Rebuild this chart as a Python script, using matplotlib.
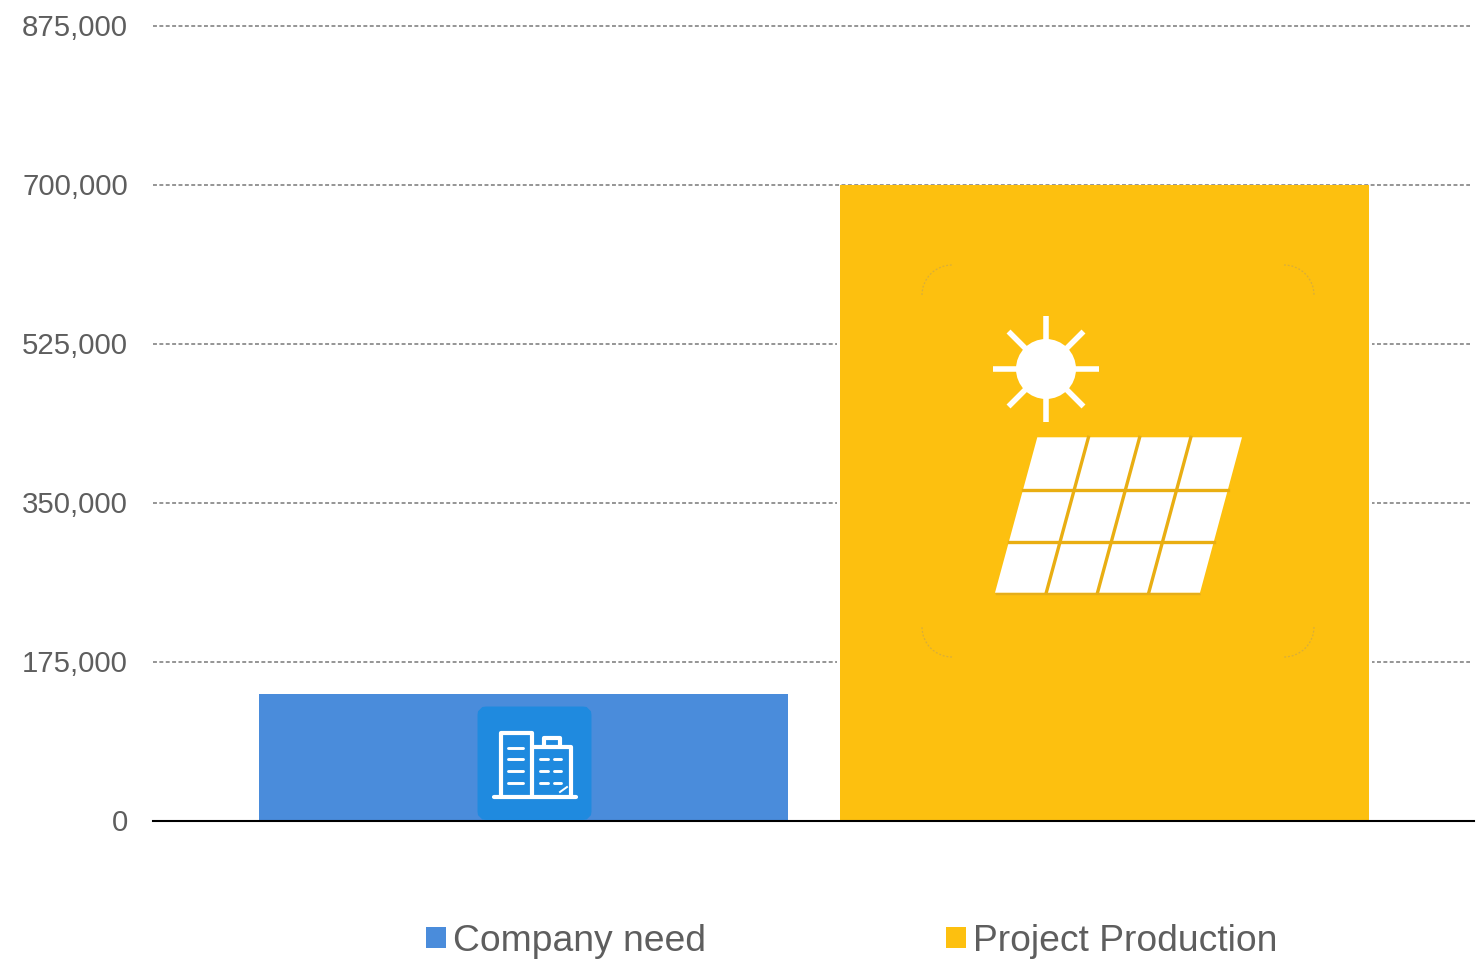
import numpy as np
import matplotlib
matplotlib.use("Agg")
import matplotlib.pyplot as plt
from matplotlib.patches import Arc, FancyBboxPatch, Polygon
from matplotlib.ticker import FuncFormatter
from matplotlib.transforms import ScaledTranslation

plt.rcParams['font.family'] = ['Liberation Sans', 'DejaVu Sans']

# Datos
series_names = ["Company need", "Project Production"]
series_values = [140000, 700000]
series_colors = ["#4A8CDB", "#FDC00F"]
y_ticks = [0, 175000, 350000, 525000, 700000, 875000]

TEXT_COLOR = "#5E5E5E"
GRID_COLOR = "#919191"
W, H = 1484, 964


def icono_edificio(ov):
    """Two office blocks on a rounded blue tile."""
    ov.add_patch(FancyBboxPatch((485.5, 714.5), 98, 97.5, boxstyle="round,pad=0,rounding_size=1",
                                mutation_scale=1, fc="#1F8ADF", ec="#1F8ADF", lw=11.5))
    blanco = dict(color="white", lw=3.0, solid_capstyle="round", solid_joinstyle="round")
    ov.plot([501, 501, 531.5, 531.5], [796.5, 733, 733, 796.5], **blanco)
    ov.plot([531.5, 570.5, 570.5], [747, 747, 796.5], **blanco)
    ov.plot([543.5, 543.5, 560, 560], [746, 738, 738, 746], **blanco)
    ov.plot([494, 576], [796.5, 796.5], **blanco)
    fino = dict(color="white", lw=2.1, solid_capstyle="round")
    for y in [747.5, 759, 770.5, 782.5]:
        ov.plot([507.5, 523], [y, y], **fino)
    for y in [759, 770.5, 782.5]:
        ov.plot([540, 548], [y, y], **fino)
        ov.plot([553.5, 561], [y, y], **fino)
    ov.plot([560, 567], [792, 787], color="white", lw=1.4)


def icono_solar(ov):
    """Sun above a tilted solar panel, on the yellow bar."""
    # Esquinas apenas visibles del recuadro del icono
    centros = [(952, 295, 180), (1284, 295, 270), (1284, 627, 0), (952, 627, 90)]
    for cx, cy, ang in centros:
        ov.add_patch(Arc((cx, cy), 60, 60, theta1=ang, theta2=ang + 90,
                         color="#D8AE3A", lw=0.9, ls=(0, (1.5, 1.5))))

    cx, cy = 1046, 369
    ov.add_patch(plt.Circle((cx, cy), 30, fc="white", ec="none"))
    for ang in np.deg2rad(np.arange(0, 360, 45)):
        ov.plot([cx + 28 * np.cos(ang), cx + 53 * np.cos(ang)],
                [cy + 28 * np.sin(ang), cy + 53 * np.sin(ang)],
                color="white", lw=4.0, solid_capstyle="butt")

    tl, tr = np.array([1037.3, 437.3]), np.array([1242, 437.3])
    bl, br = np.array([995, 592.7]), np.array([1200, 592.7])
    ov.add_patch(Polygon([bl + [1, 2.5], br + [1, 2.5], br, bl], fc="#E5AE1A", ec="none"))
    ov.add_patch(Polygon([tl, tr, br, bl], fc="white", ec="none"))
    for f in [1 / 4, 2 / 4, 3 / 4]:
        a, b = tl + f * (tr - tl), bl + f * (br - bl)
        ov.plot([a[0], b[0]], [a[1], b[1]], color="#E9AE12", lw=2.4)
    for f in [1 / 3, 2 / 3]:
        a, b = tl + f * (bl - tl), tr + f * (br - tr)
        ov.plot([a[0], b[0]], [a[1] + 1, b[1] + 1], color="#E9AE12", lw=2.4)


fig = plt.figure(figsize=(W / 100, H / 100), dpi=100, facecolor="white")
ax = fig.add_axes([153 / W, 1 - 821 / H, (1474 - 153) / W, (821 - 26) / H])

# Una sola categoría con dos series lado a lado
ancho = 0.4005
offsets = [-0.2195, 0.22]
handles = []
for name, val, col, off in zip(series_names, series_values, series_colors, offsets):
    # Halo blanco que corta la grilla alrededor de la barra
    ax.bar(off, val * 0.995, width=ancho + 0.0045, color="white", zorder=2)
    handles.append(ax.bar(off, val, width=ancho, color=col, label=name, zorder=3))

ax.set_xlim(-0.5, 0.5)
ax.set_ylim(0, 875000)
ax.set_xticks([])
ax.set_yticks(y_ticks)
ax.yaxis.set_major_formatter(FuncFormatter(lambda v, _: f"{int(v):,}"))
ax.tick_params(axis="y", length=0, pad=18, labelsize=21.2, labelcolor=TEXT_COLOR)
# Subir un poco las etiquetas del eje
desplazar = ScaledTranslation(0, 1 / 100, fig.dpi_scale_trans)
for lab in ax.get_yticklabels():
    lab.set_transform(lab.get_transform() + desplazar)
ax.hlines(y_ticks[1:], -0.5, 0.497, color=GRID_COLOR, lw=1.35, ls=(0, (2.1, 1.3)),
          clip_on=False, zorder=1)
for s in ["top", "left", "right"]:
    ax.spines[s].set_visible(False)
ax.spines["bottom"].set_color("black")
ax.spines["bottom"].set_linewidth(1.5)
ax.spines["bottom"].set_zorder(5)

# Capa en píxeles para los iconos
ov = fig.add_axes([0, 0, 1, 1], facecolor="none")
ov.set_xlim(0, W)
ov.set_ylim(H, 0)
ov.axis("off")
icono_edificio(ov)
icono_solar(ov)

fig.legend(handles=[h[0] for h in handles], labels=series_names, ncol=2, frameon=False,
           loc="center left", bbox_to_anchor=(418.5 / W, 1 - 941.5 / H), fontsize=26.8,
           labelcolor=TEXT_COLOR, handlelength=0.54, handleheight=0.5, handletextpad=0.2,
           columnspacing=6.43, borderpad=0.2, borderaxespad=0)

fig.savefig("out.png", dpi=100)
